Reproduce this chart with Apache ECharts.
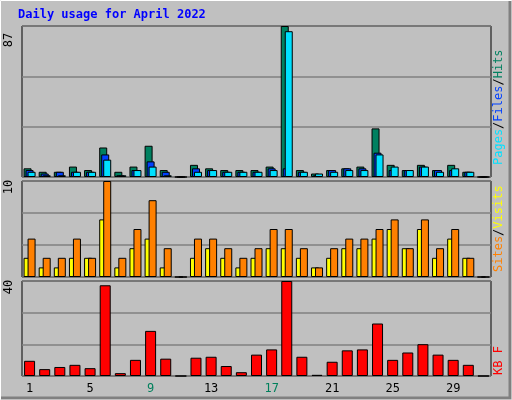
<!DOCTYPE html>
<html><head><meta charset="utf-8">
<script src="https://cdn.jsdelivr.net/npm/echarts@6/dist/echarts.min.js"></script>
<style>html,body{margin:0;padding:0;background:#c0c0c0}#c{width:512px;height:400px}</style>
</head><body><div id="c"></div>
<script>
const days = ['1','2','3','4','5','6','7','8','9','10','11','12','13','14','15','16','17','18','19','20','21','22','23','24','25','26','27','28','29','30','31']
const weekend = ['2','3','9','10','16','17','23','24','30','31']
const hits  = [5,3,3,6,4,17,3,6,18,4,0,7,5,4,4,4,6,87,4,2,4,5,6,28,7,4,7,4,7,3,0]
const files = [4,2,3,3,3,13,1,4,9,3,0,5,4,3,3,3,5,5,3,1,4,5,5,14,4,4,6,4,4,3,0]
const pages = [3,1,1,3,3,10,1,4,6,1,0,3,4,3,3,3,4,84,3,2,3,4,4,13,6,4,6,3,5,3,0]
const visits = [2,1,1,2,2,6,1,3,4,1,0,2,3,2,1,2,3,3,2,1,2,3,3,4,5,3,5,2,4,2,0]
const sites  = [4,2,2,4,2,10,2,5,8,3,0,4,4,3,2,3,5,5,3,1,3,4,4,5,6,3,6,3,5,2,0]
const kbytes = [6.4,2.9,3.8,4.7,3.3,38.2,1.2,6.8,19,7.3,0,7.7,8.1,4.2,1.6,9,11.2,40,8.1,0.5,6,10.8,11.2,22.1,6.8,9.9,13.4,9,6.8,4.7,0]
const maxTop = 87, maxMid = 10, maxBot = 40

const chart = echarts.init(document.getElementById('c'))
const font = '"DejaVu Sans Mono", monospace'
const grids = [
  {left: 22, top: 26, width: 469, height: 151},
  {left: 22, top: 181, width: 469, height: 96},
  {left: 22, top: 281, width: 469, height: 95}
].map(g => Object.assign(g, {show: true, backgroundColor: '#c0c0c0', borderColor: '#000', borderWidth: 1}))

const xAxes = grids.map((g, i) => ({
  type: 'category', gridIndex: i, data: days, boundaryGap: true,
  axisLine: {show: false}, axisTick: {show: false},
  axisLabel: i === 2 ? {
    show: true, fontFamily: font, fontSize: 12, margin: 7,
    formatter: v => weekend.includes(v) ? '{w|' + v + '}' : v,
    color: '#000', rich: {w: {color: '#00805c', fontFamily: font, fontSize: 12}}
  } : {show: false}
}))
const yAxes = [maxTop, maxMid, maxBot].map((m, i) => ({
  type: 'value', gridIndex: i, min: 0, max: m, interval: m / 3,
  axisLabel: {show: false}, axisLine: {show: false}, axisTick: {show: false},
  splitLine: {lineStyle: {color: '#808080', width: 1.5}}
}))
const bar = (data, i, color, width, gap) => ({
  type: 'bar', xAxisIndex: i, yAxisIndex: i, data, barWidth: width, barGap: gap,
  itemStyle: {color, borderColor: '#000', borderWidth: 1}, silent: true, animation: false
})

const sideText = (x, y, rich, parts) => ({
  type: 'text', x, y, rotation: Math.PI / 2,
  style: {text: parts, rich, align: 'left', verticalAlign: 'middle', font: '12px ' + font}
})

chart.setOption({
  animation: false,
  grid: grids, xAxis: xAxes, yAxis: yAxes,
  series: [
    bar(hits, 0, '#008060', 8, '-75%'),
    bar(files, 0, '#0040ff', 8, '-75%'),
    bar(pages, 0, '#00e0ff', 8, '-75%'),
    bar(visits, 1, '#ffff00', 8, '-50%'),
    bar(sites, 1, '#ff8000', 8, '-50%'),
    bar(kbytes, 2, '#ff0000', 11, '0%')
  ],
  graphic: [
    {type: 'rect', shape: {x: 0.5, y: 0.5, width: 511, height: 399}, style: {fill: 'none', stroke: '#fff', lineWidth: 1}, z: -1},
    {type: 'polyline', shape: {points: [[1, 398], [510, 398], [510, 1]]}, style: {stroke: '#808080', lineWidth: 3, fill: 'none'}},
    {type: 'text', x: 18, y: 9, style: {text: 'Daily usage for April 2022', font: 'bold 12px ' + font, fill: '#0000ff'}},
    {type: 'text', x: 9, y: 40, rotation: Math.PI / 2, style: {text: '87', font: '12px ' + font, fill: '#000', align: 'center', verticalAlign: 'middle'}},
    {type: 'text', x: 9, y: 187, rotation: Math.PI / 2, style: {text: '10', font: '12px ' + font, fill: '#000', align: 'center', verticalAlign: 'middle'}},
    {type: 'text', x: 9, y: 287, rotation: Math.PI / 2, style: {text: '40', font: '12px ' + font, fill: '#000', align: 'center', verticalAlign: 'middle'}},
    sideText(499, 165, {p: {fill: '#00e0ff'}, f: {fill: '#0040ff'}, h: {fill: '#008060'}, s: {fill: '#000'}},
      '{p|Pages}{s|/}{f|Files}{s|/}{h|Hits}'),
    sideText(499, 272, {a: {fill: '#ff8000'}, v: {fill: '#ffff00'}, s: {fill: '#000'}},
      '{a|Sites}{s|/}{v|Visits}'),
    sideText(499, 375, {k: {fill: '#ff0000'}}, '{k|KB F}')
  ]
})
</script></body></html>
